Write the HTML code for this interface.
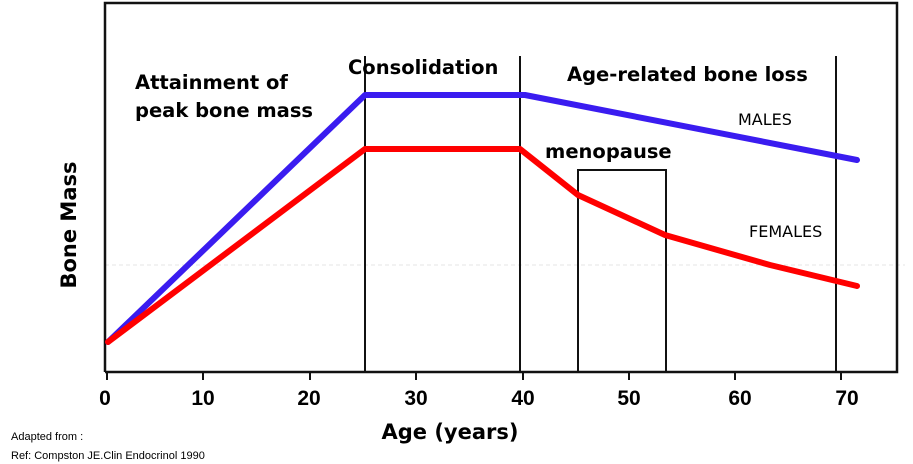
<!DOCTYPE html>
<html><head><style>body{margin:0;background:#fff}svg{display:block}</style></head><body>
<svg width="913" height="464" viewBox="0 0 913 464" xmlns="http://www.w3.org/2000/svg">
<rect x="0" y="0" width="913" height="464" fill="#fff"/>
<line x1="105" y1="265" x2="905" y2="265" stroke="#e4e4e4" stroke-width="1" stroke-dasharray="4,3"/>
<polyline points="105,372 105,3 897,3 897,372 105,372" fill="none" stroke="#111" stroke-width="2.5"/>
<g stroke="#111" stroke-width="2">
<line x1="365" y1="56" x2="365" y2="372"/>
<line x1="520" y1="56" x2="520" y2="372"/>
<line x1="836" y1="56" x2="836" y2="372"/>
<polyline points="578,372 578,170 666,170 666,372" fill="none"/>
<line x1="107" y1="372" x2="107" y2="380"/><line x1="203" y1="372" x2="203" y2="380"/>
<line x1="310" y1="372" x2="310" y2="380"/><line x1="416" y1="372" x2="416" y2="380"/>
<line x1="523" y1="372" x2="523" y2="380"/><line x1="629" y1="372" x2="629" y2="380"/>
<line x1="735" y1="372" x2="735" y2="380"/><line x1="841" y1="372" x2="841" y2="380"/>
</g>
<polyline points="108,342 365,95 525,95 857,160" fill="none" stroke="#3a1cf0" stroke-width="6" stroke-linejoin="round" stroke-linecap="round"/>
<polyline points="108,342 365,149 520,149 578,195 665,235 770,265 857,286" fill="none" stroke="#f00" stroke-width="6" stroke-linejoin="round" stroke-linecap="round"/>
<g font-family="'DejaVu Sans',sans-serif" font-weight="bold" fill="#000">
<text x="135" y="89" font-size="19.5">Attainment of</text>
<text x="135" y="117" font-size="19.5">peak bone mass</text>
<text x="348" y="74" font-size="19.5">Consolidation</text>
<text x="567" y="81" font-size="19.5">Age-related bone loss</text>
<text x="545" y="158" font-size="19.5">menopause</text>
<text x="738" y="125" font-size="16" font-weight="normal">MALES</text>
<text x="749" y="237" font-size="16" font-weight="normal">FEMALES</text>
<text transform="translate(76,225) rotate(-90)" text-anchor="middle" font-size="21">Bone Mass</text>
<text x="450" y="439" text-anchor="middle" font-size="21">Age (years)</text>
</g>
<g font-family="'Liberation Sans',sans-serif" font-weight="bold" font-size="21" text-anchor="middle">
<text x="105" y="405">0</text><text x="203" y="405">10</text><text x="309" y="405">20</text>
<text x="416" y="405">30</text><text x="523" y="405">40</text><text x="629" y="405">50</text>
<text x="740" y="405">60</text><text x="847" y="405">70</text>
</g>
<g font-family="'Liberation Sans',sans-serif" font-size="11">
<text x="11" y="440">Adapted from :</text>
<text x="11" y="459">Ref: Compston JE.Clin Endocrinol 1990</text>
</g>
</svg>
</body></html>
